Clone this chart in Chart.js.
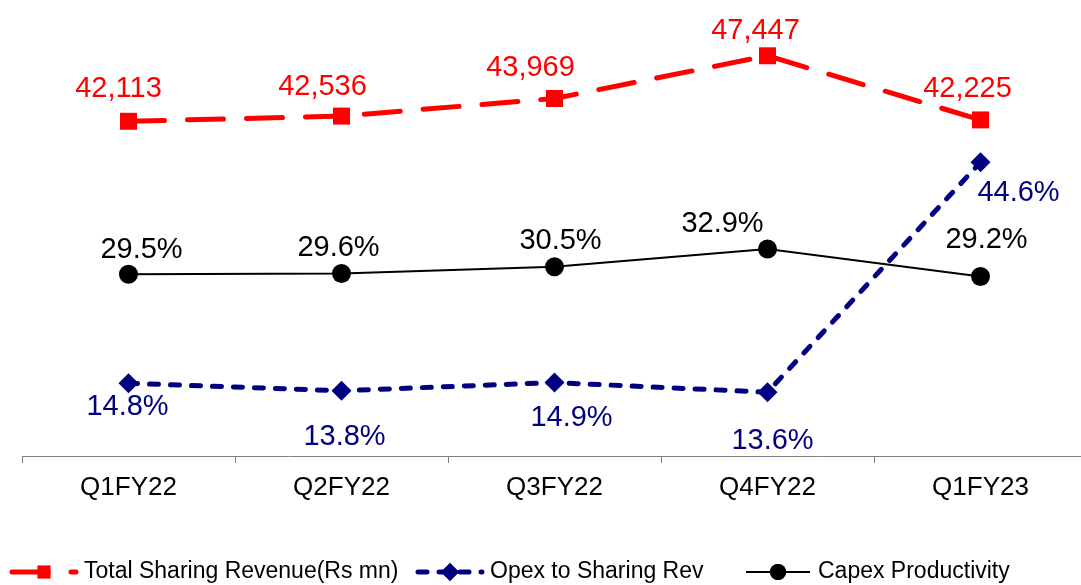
<!DOCTYPE html>
<html>
<head>
<meta charset="utf-8">
<script src="https://cdn.jsdelivr.net/npm/chart.js@4.4.1/dist/chart.umd.min.js"></script>
<style>
  html, body { margin: 0; padding: 0; background: #fff; overflow: hidden; }
  canvas { display: block; }
</style>
</head>
<body>
<canvas id="sharingChart" width="1090" height="585"></canvas>
<script>
const categories = ['Q1FY22', 'Q2FY22', 'Q3FY22', 'Q4FY22', 'Q1FY23'];
const sharingRevenue = [42113, 42536, 43969, 47447, 42225];
const opexToSharing = [14.8, 13.8, 14.9, 13.6, 44.6];
const capexProductivity = [29.5, 29.6, 30.5, 32.9, 29.2];

const FONT = '"Liberation Sans", Arial, sans-serif';
const RED = '#ff0000';
const NAVY = '#000080';

// label offsets from each point (manually placed like in the original deck)
const revenueLabelShift = [[-10, -35], [-19, -31], [-24, -33], [-12, -27], [-13, -33]];
const opexLabelShift = [[-1, 21], [3, 44], [17, 33], [5, 46], [38, 28]];
const capexLabelShift = [[13, -27], [-3, -28], [6, -28], [-45, -27], [6, -39]];

const pointLabels = {
    id: 'pointLabels',
    afterDatasetsDraw(chart) {
        const ctx = chart.ctx;
        const size = 29;
        ctx.save();
        ctx.font = size + 'px ' + FONT;
        ctx.textAlign = 'center';
        ctx.textBaseline = 'alphabetic';
        chart.data.datasets.forEach((ds, i) => {
            const meta = chart.getDatasetMeta(i);
            meta.data.forEach((pt, j) => {
                const shift = ds.labelShift[j];
                ctx.fillStyle = ds.labelColor;
                ctx.fillText(ds.format(ds.data[j]), pt.x + shift[0], pt.y + shift[1] + size * 0.358);
            });
        });
        ctx.restore();
    }
};

// legend with line + marker symbols like the spreadsheet legend
const lineLegend = {
    id: 'lineLegend',
    afterDraw(chart) {
        const ctx = chart.ctx;
        const y = 572;
        const items = [
            { ds: chart.data.datasets[0], x: 12, marker: 9 },
            { ds: chart.data.datasets[1], x: 418, marker: 9 },
            { ds: chart.data.datasets[2], x: 746, marker: 8 }
        ];
        ctx.save();
        items.forEach(item => {
            const ds = item.ds;
            const x1 = item.x, x2 = item.x + 64;
            ctx.beginPath();
            ctx.strokeStyle = ds.borderColor;
            ctx.lineWidth = ds.borderWidth;
            ctx.lineCap = ds.borderCapStyle || 'butt';
            ctx.setLineDash(ds.borderDash || []);
            ctx.moveTo(x1, y);
            ctx.lineTo(x2, y);
            ctx.stroke();
            ctx.setLineDash([]);
            Chart.helpers.drawPoint(ctx, {
                pointStyle: ds.pointStyle,
                radius: item.marker,
                borderWidth: 0
            }, (x1 + x2) / 2, y);
            ctx.fillStyle = ds.borderColor;
            ctx.fill();
            ctx.fillStyle = '#000';
            ctx.font = '23px ' + FONT;
            ctx.textAlign = 'left';
            ctx.textBaseline = 'alphabetic';
            ctx.fillText(ds.label, x2 + 8, y + 6);
        });
        ctx.restore();
    }
};

const chartData = {
    labels: categories,
    datasets: [
        {
            label: 'Total Sharing Revenue(Rs mn)',
            data: sharingRevenue,
            yAxisID: 'yRev',
            borderColor: RED,
            backgroundColor: RED,
            borderWidth: 5,
            borderDash: [36, 23],
            borderCapStyle: 'round',
            pointStyle: 'rect',
            pointRadius: 12,
            pointBorderWidth: 0,
            labelColor: RED,
            labelShift: revenueLabelShift,
            format: v => v.toLocaleString('en-US'),
            clip: false,
            tension: 0
        },
        {
            label: 'Opex to Sharing Rev',
            data: opexToSharing,
            yAxisID: 'yPct',
            borderColor: NAVY,
            backgroundColor: NAVY,
            borderWidth: 5,
            borderDash: [9, 12],
            borderCapStyle: 'round',
            pointStyle: 'rectRot',
            pointRadius: 10,
            pointBorderWidth: 0,
            labelColor: NAVY,
            labelShift: opexLabelShift,
            format: v => v.toFixed(1) + '%',
            clip: false,
            tension: 0
        },
        {
            label: 'Capex Productivity',
            data: capexProductivity,
            yAxisID: 'yPct',
            borderColor: '#000',
            backgroundColor: '#000',
            borderWidth: 2,
            pointStyle: 'circle',
            pointRadius: 9.5,
            pointBorderWidth: 0,
            labelColor: '#000',
            labelShift: capexLabelShift,
            format: v => v.toFixed(1) + '%',
            clip: false,
            tension: 0
        }
    ]
};

const config = {
    type: 'line',
    data: chartData,
    options: {
        responsive: false,
        animation: false,
        devicePixelRatio: 1,
        layout: {
            autoPadding: false,
            padding: { left: 22, right: 3, top: 48, bottom: 0 }
        },
        plugins: {
            legend: { display: false },
            tooltip: { enabled: false }
        },
        scales: {
            x: {
                offset: true,
                grid: {
                    offset: true,
                    drawOnChartArea: false,
                    tickLength: 7,
                    color: '#808080'
                },
                border: { color: '#808080', width: 1 },
                ticks: {
                    color: '#000',
                    font: { family: FONT, size: 26 },
                    padding: 9,
                    maxRotation: 0,
                    autoSkip: false
                },
                afterFit(scale) {
                    scale.height = 129;
                }
            },
            yPct: { display: false, min: 5, max: 60 },
            yRev: { display: false, min: 14860, max: 48080 }
        }
    },
    plugins: [pointLabels, lineLegend]
};

new Chart(document.getElementById('sharingChart').getContext('2d'), config);
</script>
</body>
</html>
